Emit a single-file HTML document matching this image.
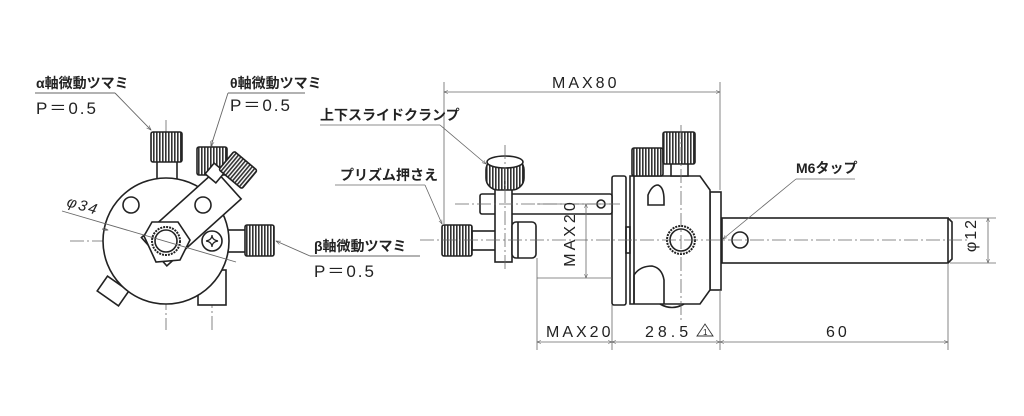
<!DOCTYPE html>
<html><head><meta charset="utf-8"><style>
html,body{margin:0;padding:0;background:#fff}
svg{display:block}
text{font-family:"Liberation Sans","Noto Sans CJK JP",sans-serif;fill:#222}
.jp{font-size:14px;font-weight:bold}
</style></head><body>
<svg width="1024" height="416" viewBox="0 0 1024 416" xmlns="http://www.w3.org/2000/svg">
<defs>
<pattern id="kn" width="3" height="4" patternUnits="userSpaceOnUse"><rect width="3" height="4" fill="#fff"/><rect width="1.6" height="4" fill="#333"/></pattern>
<marker id="ar" viewBox="0 0 10 10" refX="10" refY="5" markerWidth="7" markerHeight="5" orient="auto-start-reverse"><path d="M0,1 L10,5 L0,9" fill="none" stroke="#555" stroke-width="1.2"/></marker>
</defs>
<g fill="none" stroke="#222" stroke-width="1.6">
<line x1="70" y1="241" x2="262" y2="241" stroke="#666" stroke-width="0.8" stroke-dasharray="14,3,2,3"/>
<line x1="166" y1="120" x2="166" y2="330" stroke="#666" stroke-width="0.8" stroke-dasharray="14,3,2,3"/>
<line x1="212" y1="140" x2="212" y2="330" stroke="#666" stroke-width="0.8" stroke-dasharray="14,3,2,3"/>
<rect x="198" y="270" width="28" height="35" fill="#fff"/>
<rect x="100" y="282" width="26" height="18" transform="rotate(35 113 291)" fill="#fff"/>
<rect x="157" y="160" width="20" height="22" fill="#fff"/>
<rect x="226" y="230" width="20" height="22" fill="#fff"/>
<circle cx="166" cy="241" r="63" fill="#fff"/>
<rect x="151" y="132" width="31" height="30" rx="2" fill="url(#kn)"/>
<rect x="197" y="147" width="30" height="28" rx="2" fill="url(#kn)"/>
<rect x="245" y="225" width="29" height="31" rx="2" fill="url(#kn)"/>
<circle cx="131" cy="205" r="8"/>
<circle cx="212" cy="241" r="10"/>
<path d="M206,241 Q212,240 212,235 Q212,240 218,241 Q212,242 212,247 Q212,242 206,241" stroke-width="1.2"/>
<g transform="rotate(-42 166 241)">
<rect x="150" y="222" width="100" height="38" fill="#fff"/>
</g>
<polygon points="144,236 152,222 178,222 190,240 180,260 156,262" fill="#fff"/>
<circle cx="166" cy="241" r="14" stroke-dasharray="2,1" stroke-width="2"/>
<circle cx="166" cy="241" r="11"/>
<circle cx="203" cy="205" r="8" fill="#fff"/>
<rect x="208" y="166" width="14" height="14" transform="rotate(40 215 173)" fill="#fff"/>
<rect x="223" y="158" width="30" height="24" rx="2" transform="rotate(40 238 170)" fill="url(#kn)"/>
</g>
<g fill="none" stroke="#666" stroke-width="0.9">
<line x1="35" y1="93" x2="115" y2="93"/><line x1="115" y1="93" x2="151" y2="130" marker-end="url(#ar)"/>
<line x1="228" y1="93" x2="305" y2="93"/><line x1="228" y1="93" x2="211" y2="146" marker-end="url(#ar)"/>
<line x1="310" y1="256" x2="420" y2="256"/><line x1="310" y1="256" x2="276" y2="241" marker-end="url(#ar)"/>
<line x1="62" y1="211" x2="236" y2="262"/>
<line x1="102" y1="229" x2="108" y2="230" marker-end="url(#ar)"/>
</g>
<text x="36" y="88" class="jp">α軸微動ツマミ</text>
<text x="36" y="114" font-size="17" letter-spacing="2">P＝0.5</text>
<text x="230" y="88" class="jp">θ軸微動ツマミ</text>
<text x="230" y="111" font-size="17" letter-spacing="2">P＝0.5</text>
<text x="314" y="251" class="jp">β軸微動ツマミ</text>
<text x="314" y="277" font-size="17" letter-spacing="2">P＝0.5</text>
<text x="66" y="206" font-size="15" font-style="italic" transform="rotate(16 66 206)" letter-spacing="2">φ34</text>

<g fill="none" stroke="#222" stroke-width="1.6">
<rect x="722" y="218" width="226" height="45"/>
<path d="M948,218 l4,4 v37 l-4,4"/>
<circle cx="740" cy="240" r="8"/>
<rect x="710" y="192" width="11" height="98" fill="#fff"/>
<path d="M630,176 H700 L710,190 V290 L700,304 H630 Z" fill="#fff"/>
<line x1="634" y1="176" x2="634" y2="304"/>
<rect x="612" y="176" width="14" height="129" rx="2" fill="#fff"/>
<rect x="626" y="227" width="4" height="26"/>
<rect x="671" y="160" width="17" height="16" fill="#fff"/>
<rect x="632" y="148" width="31" height="28" rx="2" fill="url(#kn)"/>
<rect x="663" y="132" width="32" height="32" rx="2" fill="url(#kn)"/>
<path d="M648,205 V195 Q652,185 658,185 Q664,187 664,200 V205 Z"/>
<path d="M634,304 V275 Q640,266 652,266 Q662,268 664,280 V304"/>
<circle cx="681" cy="240" r="14" stroke-dasharray="2,1" stroke-width="2"/>
<circle cx="681" cy="240" r="11"/>
<path d="M660,304 Q672,311 684,304"/>
<rect x="472" y="231" width="25" height="19" fill="#fff"/>
<rect x="442" y="225" width="30" height="31" rx="2" fill="url(#kn)"/>
<rect x="480" y="194" width="132" height="20" rx="2" fill="#fff"/>
<circle cx="601" cy="204" r="4"/>
<rect x="495" y="188" width="17" height="74" fill="#fff"/>
<rect x="512" y="222" width="24" height="36" rx="4" fill="#fff"/>
<line x1="518" y1="222" x2="518" y2="258"/>
<rect x="486" y="158" width="38" height="32" rx="12" fill="url(#kn)"/>
<ellipse cx="505" cy="162" rx="18" ry="6" fill="#fff"/>
</g>
<g fill="none" stroke="#666" stroke-width="0.8">
<line x1="420" y1="240" x2="968" y2="240" stroke-dasharray="14,3,2,3"/>
<line x1="681" y1="125" x2="681" y2="320" stroke-dasharray="14,3,2,3"/>
<line x1="505" y1="145" x2="505" y2="270" stroke-dasharray="14,3,2,3"/>
<line x1="455" y1="204" x2="620" y2="204" stroke-dasharray="14,3,2,3"/>
<line x1="444" y1="82" x2="444" y2="225"/><line x1="720" y1="82" x2="720" y2="190"/>
<line x1="444" y1="92" x2="720" y2="92" marker-start="url(#ar)" marker-end="url(#ar)"/>
<line x1="537" y1="204" x2="612" y2="204"/><line x1="537" y1="278" x2="612" y2="278"/>
<line x1="586" y1="204" x2="586" y2="278" marker-start="url(#ar)" marker-end="url(#ar)"/>
<line x1="537" y1="258" x2="537" y2="350"/><line x1="612" y1="305" x2="612" y2="350"/>
<line x1="720" y1="290" x2="720" y2="350"/><line x1="948" y1="263" x2="948" y2="350"/>
<line x1="537" y1="342" x2="612" y2="342" marker-start="url(#ar)" marker-end="url(#ar)"/>
<line x1="612" y1="342" x2="720" y2="342" marker-start="url(#ar)" marker-end="url(#ar)"/>
<line x1="720" y1="342" x2="948" y2="342" marker-start="url(#ar)" marker-end="url(#ar)"/>
<line x1="950" y1="218" x2="996" y2="218"/><line x1="950" y1="263" x2="996" y2="263"/>
<line x1="988" y1="218" x2="988" y2="263" marker-start="url(#ar)" marker-end="url(#ar)"/>
<line x1="320" y1="125" x2="440" y2="125"/><line x1="440" y1="125" x2="486" y2="164" marker-end="url(#ar)"/>
<line x1="335" y1="185" x2="425" y2="185"/><line x1="425" y1="185" x2="442" y2="224" marker-end="url(#ar)"/>
<line x1="796" y1="179" x2="855" y2="179"/><line x1="796" y1="179" x2="723" y2="239" marker-end="url(#ar)"/>
</g>
<text x="552" y="88" font-size="16" letter-spacing="3">MAX80</text>
<text x="320" y="120" class="jp">上下スライドクランプ</text>
<text x="340" y="180" class="jp">プリズム押さえ</text>
<text x="796" y="173" class="jp">M6タップ</text>
<text x="582" y="240" font-size="16" letter-spacing="3" text-anchor="middle" transform="rotate(-90 575 240)">MAX20</text>
<text x="546" y="337" font-size="16" letter-spacing="3">MAX20</text>
<text x="645" y="337" font-size="16" letter-spacing="4">28.5</text>
<path d="M697,336 L705,324 L713,336 Z" fill="none" stroke="#333" stroke-width="0.9"/>
<text x="703" y="335" font-size="8">1</text>
<text x="826" y="337" font-size="16" letter-spacing="3">60</text>
<text x="982" y="241" font-size="16" letter-spacing="2" text-anchor="middle" transform="rotate(-90 976 241)">φ12</text>
</svg>
</body></html>
